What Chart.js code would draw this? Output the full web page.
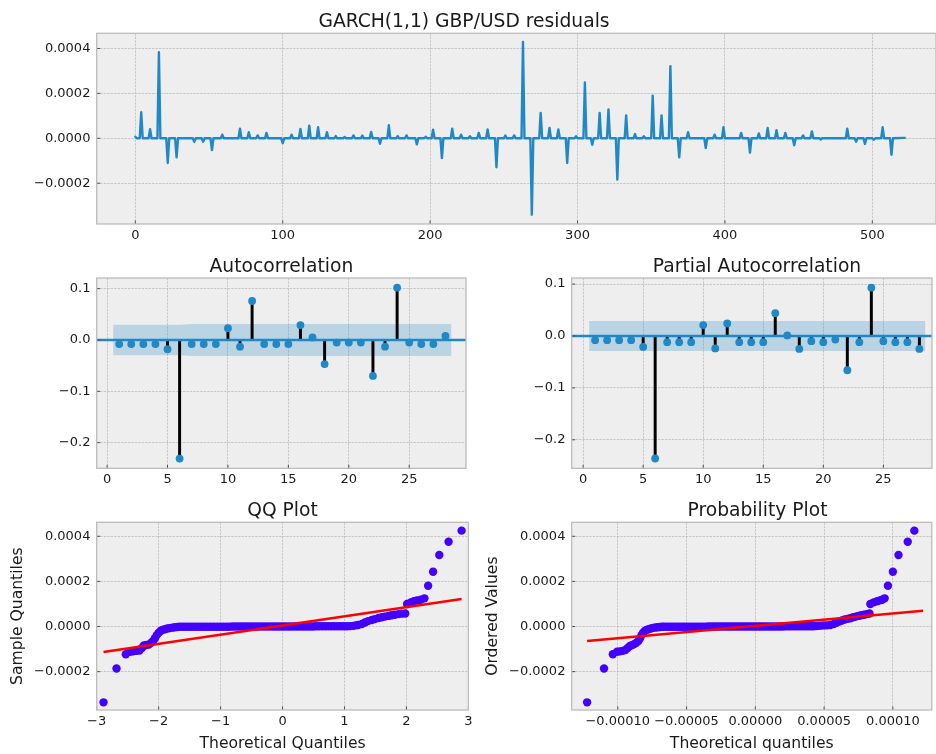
<!DOCTYPE html>
<html>
<head>
<meta charset="utf-8">
<script src="https://cdn.jsdelivr.net/npm/chart.js@4.4.1/dist/chart.umd.min.js"></script>
<style>
  html, body { margin: 0; padding: 0; background: #fff; overflow: hidden; }
  #page { position: relative; width: 936px; height: 754px; overflow: hidden; }
  canvas { position: absolute; }
</style>
</head>
<body>
<div id="page">
  <canvas id="resid" width="936" height="250" style="left:0;top:0"></canvas>
  <canvas id="acf" width="478" height="250" style="left:0;top:250px"></canvas>
  <canvas id="pacf" width="458" height="250" style="left:478px;top:250px"></canvas>
  <canvas id="qq" width="478" height="254" style="left:0;top:500px"></canvas>
  <canvas id="prob" width="458" height="254" style="left:478px;top:500px"></canvas>
</div>
<script>
// ---------- data ----------
// residual series, values in units of 1e-4; flat near zero between spikes
const residStart = [[0, 0.07], [1, 0.0]];
const residEnd = [522, 0.02];
const residSpikes = [
  [4, 1.16], [10, 0.41], [16, 3.83], [22, -1.10], [28, -0.85], [40, -0.16], [46, -0.15],
  [52, -0.52], [59, 0.16], [71, 0.43], [77, 0.27], [83, 0.13], [89, 0.24], [100, -0.21],
  [106, 0.16], [112, 0.42], [118, 0.56], [124, 0.49], [130, 0.27], [136, 0.10], [142, 0.06],
  [148, 0.13], [154, 0.12], [160, 0.28], [166, -0.24], [172, 0.58], [178, 0.10], [184, 0.13],
  [191, -0.27], [197, 0.07], [202, 0.38], [208, -0.88], [215, 0.43], [221, 0.16], [227, 0.09],
  [233, 0.24], [239, 0.39], [245, -1.29], [251, 0.12], [257, 0.13], [263, 4.29], [269, -3.40],
  [275, 1.13], [281, 0.46], [287, 0.39], [293, -1.10], [299, 0.09], [305, 2.49], [310, -0.29],
  [315, 1.13], [321, 1.29], [327, -1.84], [333, 1.02], [339, 0.19], [345, 0.09], [351, 1.90],
  [357, 1.02], [363, 3.21], [369, -0.85], [375, 0.27], [387, -0.43], [393, 0.16], [399, 0.50],
  [411, 0.24], [417, -0.64], [423, 0.22], [429, 0.46], [435, 0.36], [441, 0.24], [447, -0.31],
  [453, 0.13], [459, 0.31], [465, -0.05], [483, 0.43], [489, -0.15], [495, -0.25], [501, -0.06],
  [507, 0.49], [513, -0.73]
];

const lags = [1, 2, 3, 4, 5, 6, 7, 8, 9, 10, 11, 12, 13, 14, 15, 16, 17, 18, 19, 20, 21, 22, 23, 24, 25, 26, 27, 28];
const acfValues = [-0.008, -0.008, -0.008, -0.008, -0.018, -0.231, -0.008, -0.008, -0.008, 0.023,
  -0.013, 0.076, -0.008, -0.008, -0.008, 0.029, 0.005, -0.047, -0.005, -0.005, -0.005, -0.070,
  -0.013, 0.102, -0.005, -0.008, -0.008, 0.008];
const pacfValues = [-0.008, -0.008, -0.008, -0.008, -0.021, -0.236, -0.012, -0.012, -0.012, 0.021,
  -0.024, 0.024, -0.012, -0.012, -0.012, 0.044, 0.001, -0.025, -0.010, -0.012, -0.007, -0.066,
  -0.012, 0.093, -0.010, -0.012, -0.012, -0.025];
// confidence band half-widths [lag, half-width]
const acfBand = [[0.5, 0.0295], [6, 0.0295], [7, 0.0310], [12, 0.0310], [13, 0.0311], [24, 0.0312], [25, 0.0314], [28.5, 0.0314]];
const pacfBand = [[0.5, 0.029], [28.5, 0.029]];

// QQ plot: [theoretical quantile, sample quantile x1e-4]
const qqPoints = [
  [-2.89, -3.36], [-2.68, -1.86], [-2.53, -1.23], [-2.46, -1.12], [-2.41, -1.10], [-2.36, -1.08],
  [-2.31, -1.06], [-2.27, -0.95], [-2.24, -0.84], [-2.20, -0.82], [-2.16, -0.80], [-2.12, -0.72],
  [-2.09, -0.64], [-2.06, -0.52], [-2.03, -0.38], [-2.00, -0.28], [-1.97, -0.20], [-1.94, -0.15],
  [-1.90, -0.12], [-1.86, -0.09], [-1.82, -0.07], [-1.78, -0.05], [-1.74, -0.03], [-1.70, -0.02],
  [-1.66, -0.01], [-1.61, -0.01], [-1.56, -0.01], [-1.51, -0.01], [-1.46, -0.01], [-1.41, -0.01],
  [-1.36, -0.01], [-1.31, -0.01], [-1.26, -0.01], [-1.21, -0.01], [-1.16, -0.01], [-1.11, -0.01],
  [-1.06, -0.01], [-1.01, -0.01], [-0.96, -0.01], [-0.91, -0.01], [-0.86, -0.01], [-0.81, 0.00],
  [-0.76, 0.00], [-0.71, 0.00], [-0.66, 0.00], [-0.61, 0.00], [-0.56, 0.00], [-0.51, 0.00],
  [-0.46, 0.00], [-0.41, 0.00], [-0.36, 0.00], [-0.31, 0.00], [-0.26, 0.00], [-0.21, 0.00],
  [-0.16, 0.00], [-0.11, 0.00], [-0.06, 0.00], [-0.01, 0.00], [0.04, 0.00], [0.09, 0.00],
  [0.14, 0.00], [0.19, 0.00], [0.24, 0.00], [0.29, 0.00], [0.34, 0.00], [0.39, 0.00],
  [0.44, 0.00], [0.49, 0.00], [0.54, 0.01], [0.59, 0.01], [0.64, 0.01], [0.69, 0.01],
  [0.74, 0.01], [0.79, 0.01], [0.84, 0.01], [0.89, 0.01], [0.94, 0.01], [0.99, 0.01],
  [1.04, 0.01], [1.09, 0.02], [1.14, 0.03], [1.18, 0.05], [1.22, 0.07], [1.28, 0.11],
  [1.33, 0.18], [1.38, 0.24], [1.44, 0.29], [1.49, 0.33], [1.55, 0.38], [1.60, 0.41],
  [1.65, 0.44], [1.71, 0.47], [1.76, 0.50], [1.81, 0.52], [1.87, 0.55], [1.92, 0.57],
  [1.98, 0.58], [2.01, 1.00], [2.07, 1.07], [2.12, 1.12], [2.17, 1.16], [2.23, 1.19],
  [2.29, 1.25], [2.35, 1.81], [2.43, 2.43], [2.53, 3.17], [2.68, 3.76], [2.89, 4.25]
];
const qqLine = [[-2.89, -1.13], [2.89, 1.22]];

// probability plot: [theoretical quantile x1e-5, ordered value x1e-4]
const probPoints = [
  [-12.23, -3.36], [-11.00, -1.86], [-10.36, -1.23], [-10.05, -1.12], [-9.85, -1.10], [-9.65, -1.08],
  [-9.45, -1.04], [-9.28, -0.95], [-9.12, -0.86], [-8.95, -0.82], [-8.80, -0.78], [-8.65, -0.72],
  [-8.50, -0.64], [-8.38, -0.52], [-8.27, -0.38], [-8.16, -0.28], [-8.04, -0.20], [-7.92, -0.15],
  [-7.76, -0.12], [-7.60, -0.09], [-7.43, -0.06], [-7.26, -0.04], [-7.10, -0.03], [-6.93, -0.02],
  [-6.77, -0.01], [-6.60, -0.01], [-6.40, -0.01], [-6.20, -0.01], [-6.00, -0.01], [-5.80, -0.01],
  [-5.60, -0.01], [-5.40, -0.01], [-5.20, -0.01], [-5.00, -0.01], [-4.80, -0.01], [-4.60, -0.01],
  [-4.40, -0.01], [-4.20, -0.01], [-4.00, -0.01], [-3.80, -0.01], [-3.60, -0.01], [-3.40, 0.00],
  [-3.20, 0.00], [-3.00, 0.00], [-2.80, 0.00], [-2.60, 0.00], [-2.40, 0.00], [-2.20, 0.00],
  [-2.00, 0.00], [-1.80, 0.00], [-1.60, 0.00], [-1.40, 0.00], [-1.20, 0.00], [-1.00, 0.00],
  [-0.80, 0.00], [-0.60, 0.00], [-0.40, 0.00], [-0.20, 0.00], [0.00, 0.00], [0.20, 0.00],
  [0.40, 0.00], [0.60, 0.00], [0.80, 0.00], [1.00, 0.00], [1.20, 0.00], [1.40, 0.00],
  [1.60, 0.00], [1.80, 0.00], [2.00, 0.00], [2.20, 0.01], [2.40, 0.01], [2.60, 0.01],
  [2.80, 0.01], [3.00, 0.01], [3.20, 0.01], [3.40, 0.01], [3.60, 0.01], [3.80, 0.01],
  [4.00, 0.01], [4.20, 0.01], [4.40, 0.02], [4.60, 0.03], [4.80, 0.04], [5.00, 0.05],
  [5.20, 0.05], [5.45, 0.07], [5.70, 0.11], [5.90, 0.17], [6.10, 0.22], [6.30, 0.27],
  [6.50, 0.31], [6.70, 0.34], [6.90, 0.37], [7.10, 0.41], [7.30, 0.44], [7.50, 0.47],
  [7.70, 0.50], [7.90, 0.52], [8.10, 0.55], [8.30, 0.58], [8.36, 1.00], [8.60, 1.07],
  [8.85, 1.12], [9.05, 1.16], [9.22, 1.19], [9.40, 1.25], [9.64, 1.81], [10.00, 2.43],
  [10.41, 3.17], [11.08, 3.76], [11.56, 4.25]
];
const probLine = [[-12.23, -0.64], [12.20, 0.70]];

// tick values
const residXTicks = [0, 100, 200, 300, 400, 500];
const valueTicks = [-0.0002, 0, 0.0002, 0.0004];
const lagTicks = [0, 5, 10, 15, 20, 25];
const corrTicks = [-0.2, -0.1, 0, 0.1];
const qqXTicks = [-3, -2, -1, 0, 1, 2, 3];
const probXTicks = [-0.0001, -0.00005, 0, 0.00005, 0.0001];

// ---------- styling ----------
const BLUE = '#1f88c5';
const QQ_BLUE = '#4400ff';
const BAND = 'rgba(31,136,197,0.25)';

Chart.defaults.font.family = "'DejaVu Sans', sans-serif";
Chart.defaults.color = '#1a1a1a';

function minusSign(s) { return s.replace('-', '\u2212'); }

// axes background, frame, inward tick marks and title (matplotlib bmh look)
const panelPlugin = {
  id: 'panel',
  beforeDraw(chart) {
    const { ctx, chartArea: a } = chart;
    ctx.save();
    ctx.fillStyle = '#eeeeee';
    ctx.fillRect(a.left, a.top, a.right - a.left, a.bottom - a.top);
    ctx.restore();
  },
  afterDraw(chart, args, opts) {
    const { ctx, chartArea: a, scales } = chart;
    ctx.save();
    ctx.strokeStyle = '#4d4d4d';
    ctx.lineWidth = 1;
    ctx.beginPath();
    scales.x.ticks.forEach(t => {
      const px = scales.x.getPixelForValue(t.value);
      ctx.moveTo(px, a.bottom);
      ctx.lineTo(px, a.bottom - 3.5);
    });
    scales.y.ticks.forEach(t => {
      const py = scales.y.getPixelForValue(t.value);
      ctx.moveTo(a.left, py);
      ctx.lineTo(a.left + 3.5, py);
    });
    ctx.stroke();
    ctx.strokeStyle = '#bcbcbc';
    ctx.lineWidth = 1.3;
    ctx.strokeRect(a.left, a.top, a.right - a.left, a.bottom - a.top);
    ctx.fillStyle = '#1a1a1a';
    ctx.font = "18.7px 'DejaVu Sans'";
    ctx.textAlign = 'center';
    ctx.textBaseline = 'alphabetic';
    ctx.fillText(opts.text, opts.cx, a.top - 6.3);
    ctx.restore();
  }
};

function axis(pos, range, ticks, fmt, size, label, labelPad) {
  const horizontal = pos === 'bottom';
  return {
    type: 'linear',
    position: pos,
    offset: false,
    min: range[0],
    max: range[1],
    afterBuildTicks: s => { s.ticks = ticks.map(v => ({ value: v })); },
    afterFit: s => {
      if (horizontal) { s.height = size; s.paddingLeft = 0; s.paddingRight = 0; }
      else { s.width = size; s.paddingTop = 0; s.paddingBottom = 0; }
    },
    ticks: {
      callback: v => minusSign(fmt(v)),
      font: { size: 13 },
      padding: horizontal ? 3.8 : 6.3,
      maxRotation: 0,
      autoSkip: false
    },
    grid: { color: '#b2b2b2', lineWidth: 0.65, drawTicks: false, offset: false },
    border: { display: false, dash: [2.4, 1.04] },
    title: {
      display: !!label,
      text: label || '',
      font: { size: 15.6 },
      padding: horizontal ? { top: 0, bottom: labelPad } : { top: labelPad, bottom: 0 }
    }
  };
}

function panel(id, g, datasets) {
  return new Chart(document.getElementById(id), {
    type: 'line',
    data: { datasets },
    options: {
      responsive: false,
      animation: false,
      events: [],
      layout: { padding: { left: 0, top: g.top, right: g.right, bottom: 0 } },
      scales: {
        x: axis('bottom', g.xRange, g.xTicks, g.xFmt, g.xH, g.xLabel, 1),
        y: axis('left', g.yRange, g.yTicks, g.yFmt, g.yW, g.yLabel, g.yLabelPad)
      },
      plugins: {
        legend: { display: false },
        tooltip: { enabled: false },
        panel: { text: g.title, cx: g.titleX }
      }
    },
    plugins: [panelPlugin]
  });
}

const fmtInt = v => String(v);
const fmt1 = v => v.toFixed(1);
const fmt4 = v => v.toFixed(4);
const fmt5 = v => v.toFixed(5);

// ---------- residuals ----------
const residData = residStart.map(([x, y]) => ({ x, y: y * 1e-4 }));
residSpikes.forEach(([i, v]) => {
  residData.push({ x: i - 1, y: 0 }, { x: i, y: v * 1e-4 }, { x: i + 1, y: 0 });
});
residData.push({ x: residEnd[0], y: residEnd[1] * 1e-4 });

panel('resid', {
  top: 33.3, right: 0, yW: 96.7, xH: 26,
  xRange: [-26.2, 543.2], yRange: [-3.817e-4, 4.677e-4],
  xTicks: residXTicks, yTicks: valueTicks, xFmt: fmtInt, yFmt: fmt4,
  title: 'GARCH(1,1) GBP/USD residuals', titleX: 464
}, [{
  data: residData, borderColor: BLUE, borderWidth: 2.4, pointRadius: 0,
  borderJoinStyle: 'round', borderCapStyle: 'round', tension: 0
}]);

// ---------- ACF / PACF ----------
function corrDatasets(values, band, xRange) {
  return [
    { data: band.map(([x, h]) => ({ x, y: h })), fill: '+1', backgroundColor: BAND,
      borderWidth: 0, pointRadius: 0, order: 4 },
    { data: band.map(([x, h]) => ({ x, y: -h })), fill: false, borderWidth: 0,
      pointRadius: 0, order: 4 },
    { type: 'bar', data: lags.map((l, i) => ({ x: l, y: values[i] })),
      backgroundColor: '#000000', barThickness: 2.3, order: 3 },
    { data: [{ x: xRange[0], y: 0 }, { x: xRange[1], y: 0 }], borderColor: BLUE,
      borderWidth: 2.6, pointRadius: 0, order: 2 },
    { data: lags.map((l, i) => ({ x: l, y: values[i] })), showLine: false,
      pointRadius: 3.9, pointBorderWidth: 0, pointBackgroundColor: BLUE, order: 1 }
  ];
}

const acfX = [-0.86, 29.7];
panel('acf', {
  top: 28, right: 12, yW: 96.7, xH: 31.7,
  xRange: acfX, yRange: [-0.250, 0.1208],
  xTicks: lagTicks, yTicks: corrTicks, xFmt: fmtInt, yFmt: fmt1,
  title: 'Autocorrelation', titleX: 281.4
}, corrDatasets(acfValues, acfBand, acfX));

const pacfX = [-0.95, 29.05];
panel('pacf', {
  top: 28, right: 0, yW: 93.7, xH: 31.7,
  xRange: pacfX, yRange: [-0.2549, 0.1117],
  xTicks: lagTicks, yTicks: corrTicks, xFmt: fmtInt, yFmt: fmt1,
  title: 'Partial Autocorrelation', titleX: 279
}, corrDatasets(pacfValues, pacfBand, pacfX));

// ---------- QQ / probability plots ----------
function qqDatasets(points, line, xUnit) {
  return [
    { data: line.map(([x, y]) => ({ x: x * xUnit, y: y * 1e-4 })), borderColor: '#ff0000',
      borderWidth: 2.6, pointRadius: 0, order: 0 },
    { data: points.map(([x, y]) => ({ x: x * xUnit, y: y * 1e-4 })), showLine: false,
      pointRadius: 4.2, pointBorderWidth: 0, pointBackgroundColor: QQ_BLUE, order: 1 }
  ];
}

panel('qq', {
  top: 22.3, right: 9.6, yW: 96.7, xH: 44,
  xRange: [-3.0, 3.0], yRange: [-3.70e-4, 4.62e-4],
  xTicks: qqXTicks, yTicks: valueTicks, xFmt: fmtInt, yFmt: fmt4,
  xLabel: 'Theoretical Quantiles', yLabel: 'Sample Quantiles', yLabelPad: 9,
  title: 'QQ Plot', titleX: 282.5
}, qqDatasets(qqPoints, qqLine, 1));

panel('prob', {
  top: 22.3, right: 0, yW: 93.7, xH: 44,
  xRange: [-13.35e-5, 12.83e-5], yRange: [-3.70e-4, 4.62e-4],
  xTicks: probXTicks, yTicks: valueTicks, xFmt: fmt5, yFmt: fmt4,
  xLabel: 'Theoretical quantiles', yLabel: 'Ordered Values', yLabelPad: 6,
  title: 'Probability Plot', titleX: 279.5
}, qqDatasets(probPoints, probLine, 1e-5));
</script>
</body>
</html>
